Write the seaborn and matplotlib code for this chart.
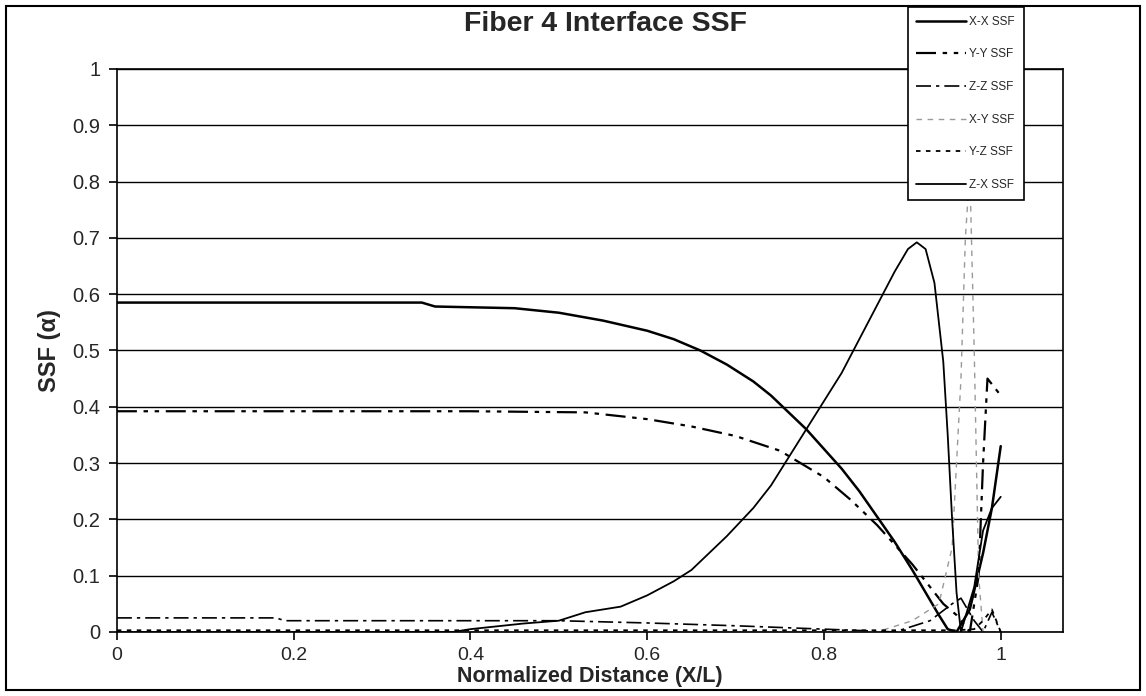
import numpy as np
import pandas as pd
import matplotlib
matplotlib.use("Agg")
import matplotlib.pyplot as plt
from matplotlib.patches import Rectangle
import seaborn as sns

sns.set_theme(style="white")
plt.rcParams['font.family'] = ['Liberation Sans', 'DejaVu Sans']

title = "Fiber 4 Interface SSF"
xlabel = "Normalized Distance (X/L)"
ylabel = "SSF (\u03b1)"
series_names = ["X-X SSF", "Y-Y SSF", "Z-Z SSF", "X-Y SSF", "Y-Z SSF", "Z-X SSF"]

xx_x = [0, 0.1, 0.2, 0.3, 0.345, 0.36, 0.45, 0.5, 0.55, 0.6, 0.63, 0.66, 0.69, 0.72, 0.74, 0.76,
        0.78, 0.8, 0.82, 0.84, 0.86, 0.88, 0.9, 0.915, 0.93, 0.94, 0.95, 0.965, 0.98, 0.99, 1.0]
xx_y = [0.585, 0.585, 0.585, 0.585, 0.585, 0.578, 0.575, 0.567, 0.553, 0.535, 0.52, 0.5, 0.475, 0.445,
        0.42, 0.39, 0.36, 0.325, 0.29, 0.25, 0.205, 0.16, 0.11, 0.07, 0.03, 0.005, 0.0, 0.04, 0.14, 0.22, 0.33]

yy_x = [0, 0.2, 0.4, 0.53, 0.6, 0.65, 0.7, 0.75, 0.8, 0.83, 0.86, 0.88, 0.9, 0.92, 0.935, 0.95,
        0.96, 0.965, 0.975, 0.98, 0.985, 1.0]
yy_y = [0.392, 0.392, 0.392, 0.39, 0.378, 0.365, 0.348, 0.322, 0.275, 0.235, 0.19, 0.155, 0.12, 0.08, 0.05, 0.03,
        0.01, 0.0, 0.1, 0.3, 0.45, 0.42]

zz_x = [0, 0.18, 0.19, 0.3, 0.4, 0.5, 0.6, 0.7, 0.8, 0.85, 0.88, 0.92, 0.945, 0.955, 0.97, 0.98, 0.99, 1.0]
zz_y = [0.025, 0.025, 0.02, 0.02, 0.02, 0.02, 0.016, 0.011, 0.005, 0.002, 0.0, 0.02, 0.05, 0.06, 0.02, 0.0, 0.035, 0.0]

xy_x = [0, 0.4, 0.86, 0.9, 0.93, 0.945, 0.955, 0.96, 0.965, 0.97, 0.975, 0.98, 1.0]
xy_y = [0.0, 0.0, 0.0, 0.02, 0.05, 0.15, 0.45, 0.7, 0.82, 0.5, 0.1, 0.0, 0.0]

yz_x = [0, 0.2, 0.4, 0.6, 0.8, 0.9, 0.95, 0.97, 0.98, 0.99, 1.0]
yz_y = [0.003, 0.003, 0.003, 0.003, 0.003, 0.003, 0.003, 0.005, 0.02, 0.04, 0.0]

zx_x = [0, 0.2, 0.38, 0.4, 0.43, 0.46, 0.5, 0.53, 0.57, 0.6, 0.63, 0.65, 0.67, 0.69, 0.72, 0.74, 0.76,
        0.78, 0.8, 0.82, 0.84, 0.86, 0.88, 0.895, 0.905, 0.915, 0.925, 0.935, 0.94, 0.945, 0.95, 0.955,
        0.97, 0.98, 0.99, 1.0]
zx_y = [0.0, 0.0, 0.0, 0.005, 0.01, 0.015, 0.02, 0.035, 0.045, 0.065, 0.09, 0.11, 0.14, 0.17, 0.22, 0.26,
        0.31, 0.36, 0.41, 0.46, 0.52, 0.58, 0.64, 0.68, 0.692, 0.68, 0.62, 0.48, 0.35, 0.2, 0.07, 0.0,
        0.08, 0.18, 0.22, 0.24]

series_x = [xx_x, yy_x, zz_x, xy_x, yz_x, zx_x]
series_y = [xx_y, yy_y, zz_y, xy_y, yz_y, zx_y]

styles = {
    "X-X SSF": dict(color="black", lw=1.8, dashes=()),
    "Y-Y SSF": dict(color="black", lw=1.6, dashes=(9, 3, 2, 3, 2, 3)),
    "Z-Z SSF": dict(color="black", lw=1.2, dashes=(9, 3, 2, 3)),
    "X-Y SSF": dict(color="#9a9a9a", lw=1.0, dashes=(4, 4)),
    "Y-Z SSF": dict(color="black", lw=1.3, dashes=(2.5, 3)),
    "Z-X SSF": dict(color="black", lw=1.3, dashes=()),
}

frames = []
for name, xs, ys in zip(series_names, series_x, series_y):
    frames.append(pd.DataFrame({"x": xs, "y": ys, "series": name}))
df = pd.concat(frames, ignore_index=True)

fig = plt.figure(figsize=(11.46, 6.96), dpi=100)
fig.patch.set_facecolor("white")
ax = fig.add_axes([0.102, 0.092, 0.826, 0.809])

handles = []
for name in series_names:
    sub = df[df["series"] == name]
    st = styles[name]
    sns.lineplot(data=sub, x="x", y="y", ax=ax, estimator=None, sort=False,
                 color=st["color"], linewidth=st["lw"], legend=False)
    line = ax.get_lines()[-1]
    if st["dashes"]:
        line.set_dashes(st["dashes"])
    line.set_label(name)
    handles.append(line)

ax.set_xlim(0, 1.071)
ax.set_ylim(0, 1)
ax.set_xticks([0, 0.2, 0.4, 0.6, 0.8, 1.0])
ax.set_xticklabels(["0", "0.2", "0.4", "0.6", "0.8", "1"])
ax.set_yticks(np.arange(0, 1.01, 0.1))
ax.set_yticklabels(["0", "0.1", "0.2", "0.3", "0.4", "0.5", "0.6", "0.7", "0.8", "0.9", "1"])
ax.tick_params(axis="y", labelsize=14.5, direction="out", length=6, width=1.2, color="black",
               left=True, pad=6)
ax.tick_params(axis="x", labelsize=14, direction="out", length=6, width=1.2, color="black",
               bottom=True, pad=5)
ax.yaxis.grid(True, color="black", linewidth=1.0)
ax.xaxis.grid(False)
for s in ["left", "bottom", "right", "top"]:
    ax.spines[s].set_color("black")
    ax.spines[s].set_linewidth(1.2)
ax.set_axisbelow(True)

ax.set_xlabel(xlabel, fontsize=15.5, fontweight="bold", labelpad=1)
ax.set_ylabel(ylabel, fontsize=17, fontweight="bold", labelpad=8)
fig.text(0.528, 0.966, title, fontsize=20.5, fontweight="bold", ha="center", va="center")

leg = fig.legend(handles=handles, loc="upper left", bbox_to_anchor=(0.792, 0.99),
                 borderaxespad=0, fontsize=8.5, frameon=True, fancybox=False, handlelength=4.2,
                 labelspacing=1.75, borderpad=0.75, handletextpad=0.25)
leg.get_frame().set_edgecolor("black")
leg.get_frame().set_linewidth(1.2)
leg.get_frame().set_alpha(1)

fig.patches.append(Rectangle((0.005, 0.008), 0.99, 0.984, transform=fig.transFigure,
                             fill=False, edgecolor="black", linewidth=1.5))

fig.savefig("out.png", dpi=100, facecolor="white")
